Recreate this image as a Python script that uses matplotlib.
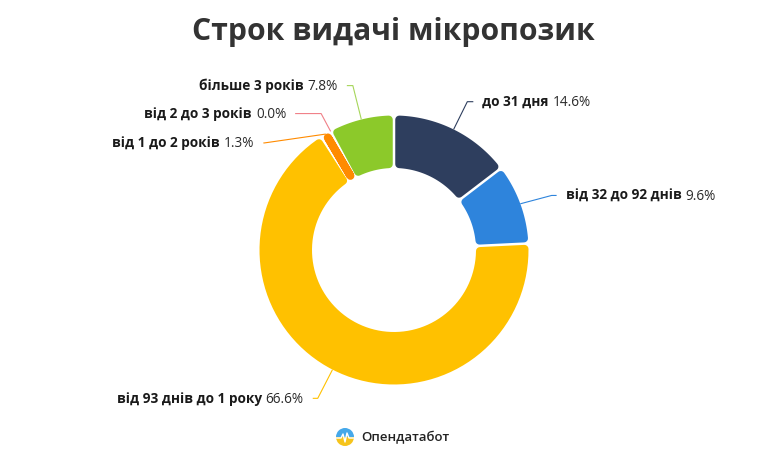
import numpy as np
import matplotlib.pyplot as plt
from matplotlib.patches import Polygon, Wedge
from matplotlib.transforms import offset_copy

title = 'Строк видачі мікропозик'
brand = 'Опендатабот'
labels = ['до 31 дня', 'від 32 до 92 днів', 'від 93 днів до 1 року',
          'від 1 до 2 років', 'від 2 до 3 років', 'більше 3 років']
shares = [14.6, 9.6, 66.6, 1.3, 0.0, 7.8]
colors = ['#2e3e5e', '#2e84dc', '#ffc100', '#ff8b00', '#ee6b73', '#8cc92a']

plt.rcParams['font.family'] = ['Open Sans', 'DejaVu Sans']

W, H = 781, 457
fig = plt.figure(figsize=(W / 100, H / 100), dpi=100)
ax = fig.add_axes([0, 0, 1, 1])

# one data unit = one pixel
cx, cy = 394, H - 250
R, r_in = 134.5, 82
corner, gap = 4, 2.5

wedges, _ = ax.pie(shares, startangle=90, counterclock=False,
                   radius=R, center=(cx, cy))


def rounded_slice(t1, t2, color):
    o = corner + gap / 2
    ro, ri = R - corner, r_in + corner
    a1, a2 = np.radians(t1), np.radians(t2)
    mid = (a1 + a2) / 2
    do, di = np.arcsin(o / ro), np.arcsin(o / ri)
    oa = np.linspace(min(a1 + do, mid), max(a2 - do, mid), 80)
    ia = np.linspace(max(a2 - di, mid), min(a1 + di, mid), 80)
    pts = np.concatenate([
        np.c_[cx + ro * np.cos(oa), cy + ro * np.sin(oa)],
        np.c_[cx + ri * np.cos(ia), cy + ri * np.sin(ia)],
    ])
    ax.add_patch(Polygon(pts, closed=True, facecolor=color, edgecolor=color,
                         lw=2 * corner * 0.72, joinstyle='round'))


for w, c in zip(wedges, colors):
    w.set_visible(False)
    if w.theta2 - w.theta1 > 0.01:
        rounded_slice(w.theta1, w.theta2, c)

# leader layout: (angle shift in deg, elbow radius factor, horizontal length px)
leader = [(0, 1.23, 6), (-1, 1.24, 5), (0, 1.24, 5),
          (20, 1.25, 1), (0, 1.15, 26), (0, 1.26, 6)]
line_colors = ['#2e3e5e', '#2e84dc', '#ffc100', '#ff8b00', '#f08088', '#a6d65a']

fig.canvas.draw()
renderer = fig.canvas.get_renderer()
fs = 9.8
for w, lab, val, (dang, fr, hlen), lc in zip(wedges, labels, shares, leader, line_colors):
    mid = np.radians((w.theta1 + w.theta2) / 2)
    e = mid + np.radians(dang)
    x0, y0 = cx + R * np.cos(mid), cy + R * np.sin(mid)
    x1, y1 = cx + fr * R * np.cos(e), cy + fr * R * np.sin(e)
    side = 1 if np.cos(e) > 0 else -1
    x2 = x1 + side * hlen
    ax.plot([x0, x1, x2], [y0, y1, y1], color=lc, lw=0.8, solid_capstyle='butt')
    tx, ty = x2 + side * 9, y1 - 4.5
    pct = f'{val:.1f}%'
    if side > 0:
        t = ax.text(tx, ty, lab, ha='left', va='baseline', fontsize=fs,
                    weight='bold', color='#1a1a1a')
        tw = t.get_window_extent(renderer).width
        ax.text(tx, ty, pct, ha='left', va='baseline', fontsize=fs, color='#2a2a2a',
                transform=offset_copy(ax.transData, fig, x=tw + 4, units='dots'))
    else:
        t = ax.text(tx, ty, pct, ha='right', va='baseline', fontsize=fs, color='#2a2a2a')
        tw = t.get_window_extent(renderer).width
        ax.text(tx, ty, lab, ha='right', va='baseline', fontsize=fs,
                weight='bold', color='#1a1a1a',
                transform=offset_copy(ax.transData, fig, x=-tw - 4, units='dots'))

ax.text(393.5, H - 40, title, ha='center', va='baseline', fontsize=21.7,
        weight='bold', color='#333333')

# brand mark
lx, ly, lr = 345, H - 437, 9
ax.add_patch(Wedge((lx, ly), lr, 0, 180, facecolor='#45a8ea', edgecolor='none'))
ax.add_patch(Wedge((lx, ly), lr, 180, 360, facecolor='#f6c41c', edgecolor='none'))
ax.plot(lx + np.array([-9, -4, -2, 0, 2, 4, 9]),
        ly + np.array([-1, -1, 3, -5, 4, -1, -1]), color='white', lw=1)
ax.text(lx + 16, ly - 4.5, brand, ha='left', va='baseline', fontsize=9.5,
        weight='semibold', color='#222222')

ax.set_xlim(0, W)
ax.set_ylim(0, H)
ax.set_aspect('auto')
ax.axis('off')
fig.savefig('out.png', dpi=100)
